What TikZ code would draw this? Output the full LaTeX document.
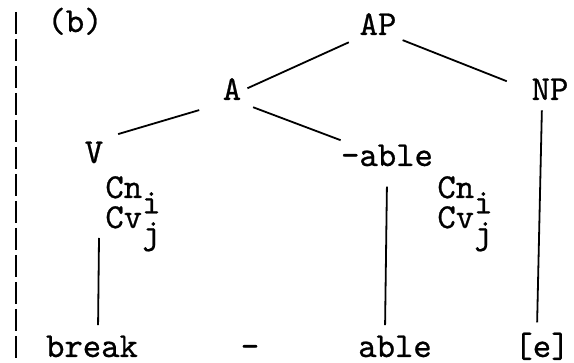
\documentclass[tikz,border=0pt]{standalone}
\usepackage{fontspec}
\newfontfamily\treefont[FakeBold=0.7]{lmmono10-regular.otf}
\usetikzlibrary{positioning}
\tikzset{
  lbl/.style={font=\treefont\fontsize{17.5}{15}\selectfont,inner sep=2pt,anchor=base},
  feat/.style={lbl,anchor=base west,align=left},
  branch/.style={line width=0.9pt},
}
\newcommand{\lowsub}[1]{\smash{\raisebox{-0.44em}{#1}}}

\begin{document}
\begin{tikzpicture}[x=0.5pt,y=-0.5pt]
  \useasboundingbox (0,0) rectangle (574,363);
  \draw[line width=1.4pt,dash pattern=on 11pt off 2.5pt] (16,12) -- (16,363);
  % tree labels
  \node[lbl] (tag) at (75,32) {(b)};
  \node[lbl] (AP) at (378,35) {AP};
  \node[lbl] (A) at (232,100) {A};
  \node[lbl] (NP) at (550,100) {NP};
  \node[lbl] (V) at (94,163) {V};
  \node[lbl] (sfx) at (387,166) {-able};
  \node[feat] (feat1) at (101,228) {Cn\lowsub{i}\\Cv\lowsub{j}};
  \node[feat] (feat2) at (433,228) {Cn\lowsub{i}\\Cv\lowsub{j}};
  % terminal string
  \node[lbl] (brk) at (92,357) {break};
  \node[lbl] (hyph) at (250,357) {-};
  \node[lbl] (able) at (395,357) {able};
  \node[lbl] (e) at (542,357) {[e]};
  % branches
  \draw[branch,shorten <=5.5pt,shorten >=10pt] (V.north east) -- (A.south west);
  \draw[branch,shorten <=1pt,shorten >=3.5pt] (A.east) -- (AP.south west);
  \draw[branch,shorten <=4pt,shorten >=0pt] (A.south east) -- ([xshift=2pt]sfx.north west);
  \draw[branch,shorten <=1pt,shorten >=11pt] (AP.south east) -- (NP.west);
  \draw[branch,shorten >=3pt] ([xshift=-1pt,yshift=-5pt]feat1.base west) -- ([xshift=3pt]brk.north);
  \draw[branch,shorten <=3pt,shorten >=3pt] ([yshift=-5pt]sfx.south) -- ([xshift=-5pt]able.north);
  \draw[branch,shorten <=3pt,shorten >=3pt] ([xshift=-4pt]NP.south) -- ([xshift=-2.5pt]e.north);
\end{tikzpicture}
\end{document}
